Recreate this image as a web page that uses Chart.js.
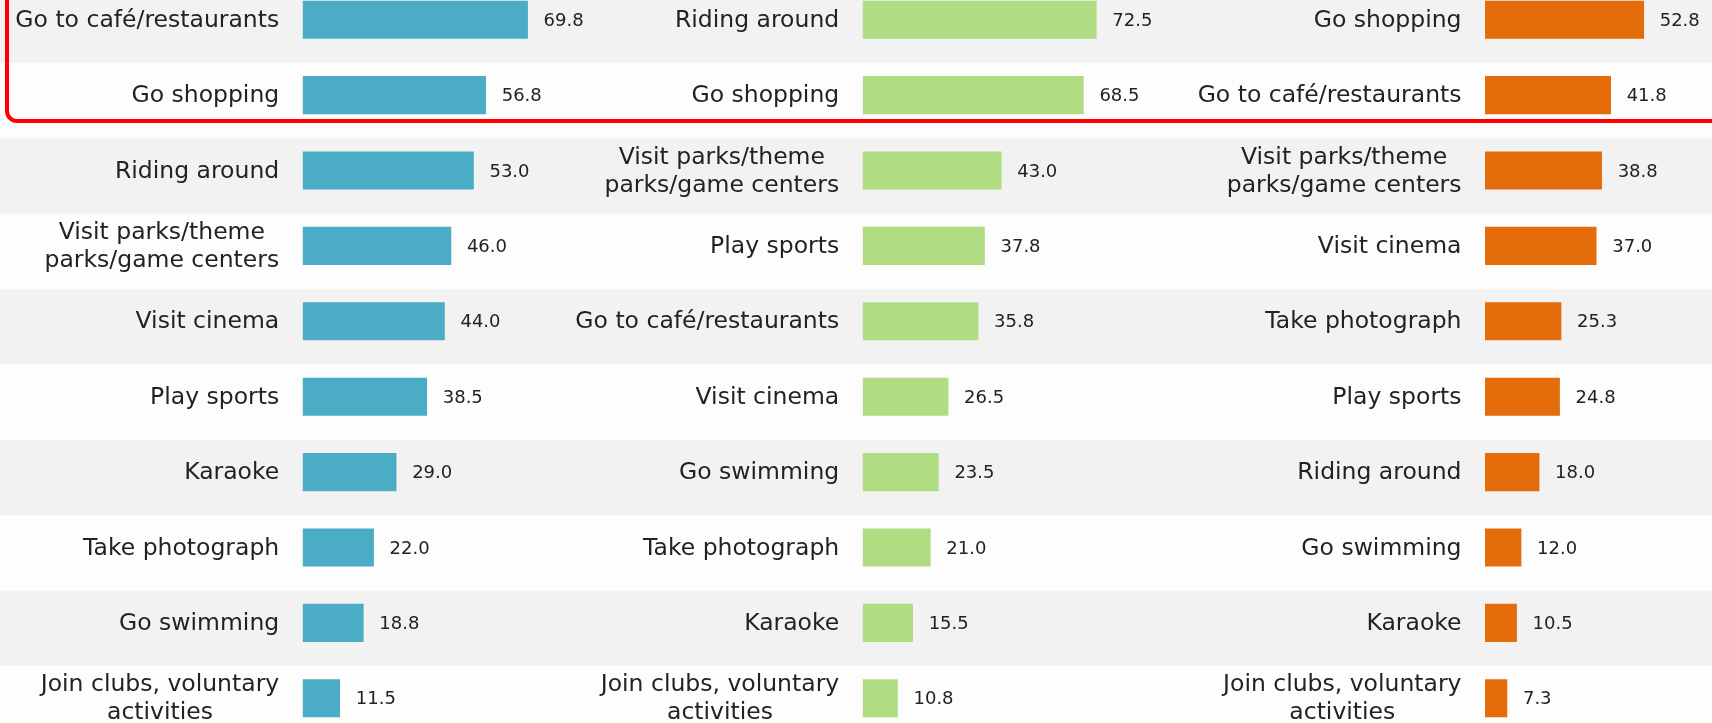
<!DOCTYPE html>
<html>
<head>
<meta charset="utf-8">
<script src="https://cdn.jsdelivr.net/npm/chart.js@4.4.1/dist/chart.umd.min.js"></script>
<style>
  html, body { margin: 0; padding: 0; width: 1712px; height: 723px; overflow: hidden; background: #fdfdfd; }
  .panel { position: absolute; left: 0; top: -18px; }
  #highlight {
    position: absolute; left: 5px; top: -40px; width: 1740px; height: 155px;
    border: 4px solid #ff0000; border-radius: 12px; pointer-events: none;
  }
</style>
</head>
<body>
<canvas id="panelA" class="panel" width="1712" height="754"></canvas>
<canvas id="panelB" class="panel" width="1712" height="754"></canvas>
<canvas id="panelC" class="panel" width="1712" height="754"></canvas>
<div id="highlight"></div>
<script>
// Activities ranked per group (percent)
const leftCategories = [
  "Go to café/restaurants", "Go shopping", "Riding around",
  ["Visit parks/theme", "parks/game centers"], "Visit cinema", "Play sports",
  "Karaoke", "Take photograph", "Go swimming", ["Join clubs, voluntary", "activities"]
];
const leftValues = [69.8, 56.8, 53.0, 46.0, 44.0, 38.5, 29.0, 22.0, 18.8, 11.5];

const middleCategories = [
  "Riding around", "Go shopping", ["Visit parks/theme", "parks/game centers"],
  "Play sports", "Go to café/restaurants", "Visit cinema",
  "Go swimming", "Take photograph", "Karaoke", ["Join clubs, voluntary", "activities"]
];
const middleValues = [72.5, 68.5, 43.0, 37.8, 35.8, 26.5, 23.5, 21.0, 15.5, 10.8];

const rightCategories = [
  "Go shopping", "Go to café/restaurants", ["Visit parks/theme", "parks/game centers"],
  "Visit cinema", "Take photograph", "Play sports",
  "Riding around", "Go swimming", "Karaoke", ["Join clubs, voluntary", "activities"]
];
const rightValues = [52.8, 41.8, 38.8, 37.0, 25.3, 24.8, 18.0, 12.0, 10.5, 7.3];

const FONT = '"DejaVu Sans", "Liberation Sans", sans-serif';
const TEXT_COLOR = '#222222';
const CANVAS_W = 1712;

// Alternating row bands behind all three panels
const rowBands = {
  id: 'rowBands',
  beforeDraw(chart, args, opts) {
    if (!opts.enabled) return;
    const { ctx, scales: { y } } = chart;
    const pitch = y.getPixelForValue(1) - y.getPixelForValue(0);
    ctx.save();
    y.getLabels().forEach((_, i) => {
      if (i % 2 !== 0) return;
      const c = y.getPixelForValue(i);
      ctx.fillStyle = '#f2f2f2';
      ctx.fillRect(0, c - pitch / 2 + opts.shift, chart.width, pitch);
    });
    ctx.restore();
  }
};

// Category names, right-aligned against the bars, multi-line names centred
const categoryLabels = {
  id: 'categoryLabels',
  afterDraw(chart, args, opts) {
    const { ctx, chartArea, scales: { y } } = chart;
    ctx.save();
    ctx.font = opts.size + 'px ' + FONT;
    ctx.fillStyle = TEXT_COLOR;
    ctx.textAlign = 'center';
    ctx.textBaseline = 'middle';
    const right = chartArea.left - opts.gap;
    chart.data.labels.forEach((lab, i) => {
      const lines = Array.isArray(lab) ? lab : [lab];
      const w = Math.max(...lines.map(l => ctx.measureText(l).width));
      const cx = right - w / 2;
      const yc = y.getPixelForValue(i);
      lines.forEach((l, k) => {
        ctx.fillText(l, cx, yc + (k - (lines.length - 1) / 2) * opts.lineHeight + opts.dy);
      });
    });
    ctx.restore();
  }
};

// Value printed after the end of each bar
const valueLabels = {
  id: 'valueLabels',
  afterDatasetsDraw(chart, args, opts) {
    const { ctx } = chart;
    const ds = chart.data.datasets[0];
    ctx.save();
    ctx.font = opts.size + 'px ' + FONT;
    ctx.fillStyle = TEXT_COLOR;
    ctx.textAlign = 'left';
    ctx.textBaseline = 'middle';
    chart.getDatasetMeta(0).data.forEach((bar, i) => {
      ctx.fillText(ds.data[i].toFixed(1), bar.x + opts.gap, bar.y + opts.dy);
    });
    ctx.restore();
  }
};

function makePanel(id, categories, values, color, barStart, axisMax, axisWidth, bands) {
  return new Chart(document.getElementById(id), {
    type: 'bar',
    data: {
      labels: categories,
      datasets: [{
        data: values,
        backgroundColor: color,
        borderWidth: 0,
        barThickness: 37.4
      }]
    },
    options: {
      indexAxis: 'y',
      responsive: false,
      animation: false,
      events: [],
      layout: { padding: { left: barStart, right: CANVAS_W - barStart - axisWidth, top: 0, bottom: 0 } },
      scales: {
        x: { display: false, min: 0, max: axisMax },
        y: { display: false }
      },
      plugins: {
        legend: { display: false },
        tooltip: { enabled: false },
        rowBands: { enabled: bands, shift: 5.5 },
        categoryLabels: { size: 23.5, gap: 23.5, lineHeight: 28, dy: 1 },
        valueLabels: { size: 18, gap: 16, dy: 1.5 }
      }
    },
    plugins: [rowBands, categoryLabels, valueLabels]
  });
}

makePanel('panelA', leftCategories, leftValues, '#4bacc6', 302.7, 80, 80 * 3.222, true);
makePanel('panelB', middleCategories, middleValues, '#b0dc82', 862.7, 80, 80 * 3.222, false);
makePanel('panelC', rightCategories, rightValues, '#e46c0a', 1485, 70, 70 * 3.006, false);
</script>
</body>
</html>
